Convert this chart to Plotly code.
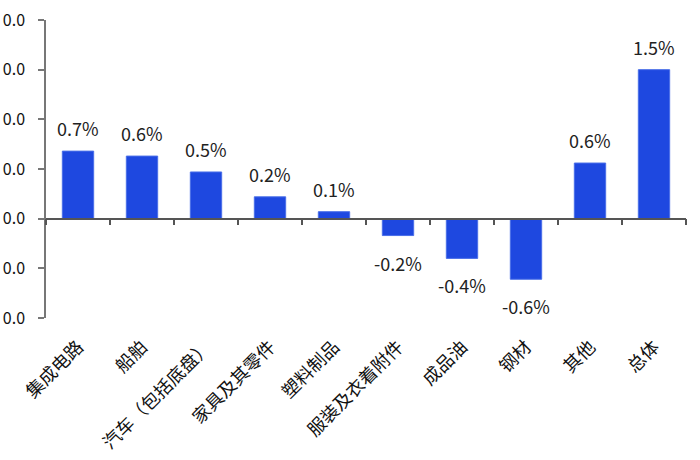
import plotly.graph_objects as go

categories = ["集成电路", "船舶", "汽车（包括底盘）", "家具及其零件", "塑料制品",
              "服装及衣着附件", "成品油", "钢材", "其他", "总体"]
values = [0.68, 0.63, 0.47, 0.22, 0.07, -0.17, -0.40, -0.61, 0.56, 1.50]
ytick_vals = [2.0, 1.5, 1.0, 0.5, 0.0, -0.5, -1.0]
ytick_text = ["0.0", "0.0", "0.0", "0.0", "0.0", "0.0", "0.0"]

BLUE = "#1E48E0"
FONT = "Noto Sans CJK SC, Noto Sans, sans-serif"

fig = go.Figure()
fig.add_trace(go.Bar(x=categories, y=values,
                     marker=dict(color=BLUE, line=dict(width=1, color="#4A6FE8")),
                     width=0.49, hoverinfo="skip", showlegend=False))
# invisible trace to carry the zero-line axis
fig.add_trace(go.Scatter(x=categories, y=[0] * len(categories), xaxis="x2", mode="markers",
                         marker=dict(opacity=0), hoverinfo="skip", showlegend=False))

for c, v in zip(categories, values):
    fig.add_annotation(x=c, y=v, text=f"{v:.1f}%", showarrow=False,
                       yanchor="middle", yshift=23 if v >= 0 else -27,
                       font=dict(size=18, color="#222222", family=FONT))

fig.update_layout(
    width=700, height=460,
    margin=dict(l=46, r=14, t=20, b=142, autoexpand=False),
    plot_bgcolor="white", paper_bgcolor="white",
    font=dict(family=FONT, color="#111111"),
    bargap=0.51,
    xaxis=dict(type="category", showline=False, ticks="", tickangle=-45,
               tickfont=dict(size=18, family=FONT, color="#111111"),
               ticklabelstandoff=14, showgrid=False, zeroline=False, automargin=False,
               range=[-0.5, len(categories) - 0.5]),
    xaxis2=dict(type="category", overlaying="x", anchor="free", position=1/3,
                showline=True, linecolor="#555555", linewidth=1.5,
                ticks="outside", ticklen=6, tickcolor="#555555", tickwidth=1.5,
                tickson="boundaries", showticklabels=False, showgrid=False,
                zeroline=False, automargin=False, range=[-0.5, len(categories) - 0.5]),
    yaxis=dict(range=[-1.0, 2.0], tickvals=ytick_vals, ticktext=ytick_text,
               showline=True, linecolor="#777777", linewidth=1.5,
               ticks="outside", ticklen=6, tickcolor="#777777", tickwidth=1.5,
               tickfont=dict(size=16, family=FONT, color="#111111"),
               ticklabelstandoff=10, showgrid=False, zeroline=False, automargin=False),
)

fig.write_html("out.html", config={"displayModeBar": False},
               post_script="document.body.style.margin='0';")
